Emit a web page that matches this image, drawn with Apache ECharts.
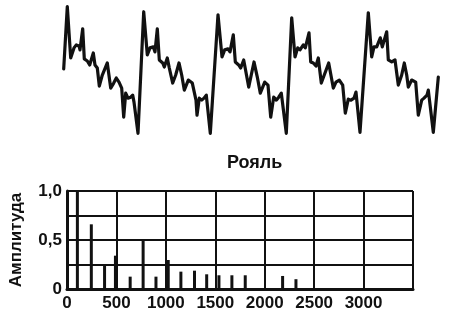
<!DOCTYPE html>
<html><head><meta charset="utf-8">
<script src="https://cdn.jsdelivr.net/npm/echarts@6/dist/echarts.min.js"></script>
<style>html,body{margin:0;padding:0;background:#fff}#c{width:450px;height:313px}</style>
</head><body><div id="c"></div>
<script>
// Waveform (arbitrary time units, arbitrary amplitude)
const waveT = [0.7,4.3,7.7,11,13.3,16,17,19.7,21.3,24.3,26.7,30.3,32,34.3,36.3,39.3,44.3,47.7,50.7,53.3,56,58.7,60.7,62.7,65,67.7,69.7,71,75,
  80.7,84.3,87,90.3,92,94.3,96.3,99.7,101.3,104.3,106.3,109.7,112.7,116,118.7,121.3,125.3,129.3,133,134,136.3,138.7,141,143.3,147.3,
  155,159,161.7,165,167,170.3,172.3,175.7,177.7,180.7,185.7,191,194.3,197.3,201.7,205,207.7,210.7,213.3,215.7,218.3,223.3,
  228.7,232,234.7,237,240.3,242.3,246,247.7,250.3,253,255.3,258.3,262,265.7,270.3,273,276.3,279.7,282.3,285.3,288,291,293,297,
  305.3,308.7,311,313.7,317.3,319.3,323.7,325.3,328.7,332,335.3,338.7,341.3,343.7,345.3,348.7,352.7,355.3,358.7,361,364,365.3,370.3,375.3];
const waveA = [1,63,12,22,25,24,20,41,11,9,5,17,5,2,-16,-5,7,-18,-13,-8,-12,-18,-47,-23,-28,-27,-25,-32,-63,
  58,15,22,23,18,41,10,7,3,12,2,-13,-5,7,-5,-20,-10,-13,-30,-45,-28,-30,-28,-25,-63,
  55,13,20,21,18,35,8,5,2,10,-17,8,-7,-23,-12,-15,-47,-27,-30,-27,-23,-63,
  52,13,22,20,25,22,37,8,7,4,12,-13,-3,7,-18,-12,-10,-15,-43,-29,-30,-28,-22,-62,
  57,13,23,23,32,23,38,10,8,10,-15,-5,7,-5,-17,-10,-12,-45,-30,-28,-25,-20,-62,-7];

// Spectrum
const freqs = [105,246,380,490,639,770,900,1024,1152,1290,1413,1537,1668,1803,2181,2316];
const amps  = [1.0,0.66,0.245,0.34,0.126,0.5,0.126,0.296,0.177,0.187,0.15,0.14,0.14,0.14,0.133,0.1];
const xTicks = [0,500,1000,1500,2000,2500,3000,3500];
const yTickLabels = {0:'0',0.5:'0,5',1:'1,0'};

const FONT = '"Liberation Sans", Arial, sans-serif';
const INK = '#111';

const chart = echarts.init(document.getElementById('c'), null, {renderer:'canvas'});
chart.setOption({
  backgroundColor:'#fff',
  animation:false,
  title:{text:'Рояль', left:222, top:149,
    textStyle:{fontFamily:FONT, fontWeight:'bold', fontSize:18, color:INK}},
  grid:[
    {left:63, top:6.7, width:377, height:126.6},
    {left:66.5, top:191, width:346.5, height:98}
  ],
  xAxis:[
    {gridIndex:0, type:'value', min:0, max:377, show:false},
    {gridIndex:1, type:'value', min:xTicks[0], max:xTicks[xTicks.length-1], interval:500,
      axisLine:{show:true, lineStyle:{color:INK, width:3}},
      axisTick:{show:false},
      splitLine:{show:true, lineStyle:{color:INK, width:2}},
      axisLabel:{margin:6, color:INK, fontFamily:FONT, fontWeight:'bold', fontSize:17,
        formatter:v => v===3500 ? '' : String(v)}}
  ],
  yAxis:[
    {gridIndex:0, type:'value', min:-63, max:63, show:false},
    {gridIndex:1, type:'value', min:0, max:1, interval:0.25,
      name:'Амплитуда', nameLocation:'middle', nameGap:42, nameRotate:90,
      nameTextStyle:{color:INK, fontFamily:FONT, fontWeight:'bold', fontSize:17},
      axisLine:{show:true, lineStyle:{color:INK, width:3}},
      axisTick:{show:false},
      splitLine:{show:true, lineStyle:{color:INK, width:2}},
      axisLabel:{margin:5, color:INK, fontFamily:FONT, fontWeight:'bold', fontSize:17,
        formatter:v => (yTickLabels[v] !== undefined ? yTickLabels[v] : '')}}
  ],
  series:[
    {type:'line', xAxisIndex:0, yAxisIndex:0, symbol:'none',
      lineStyle:{color:INK, width:3.2, join:'round', cap:'round'},
      data: waveT.map((t,i)=>[t, waveA[i]])},
    {type:'bar', xAxisIndex:1, yAxisIndex:1, barWidth:3,
      itemStyle:{color:INK},
      data: freqs.map((f,i)=>[f, amps[i]])}
  ]
});
</script></body></html>
